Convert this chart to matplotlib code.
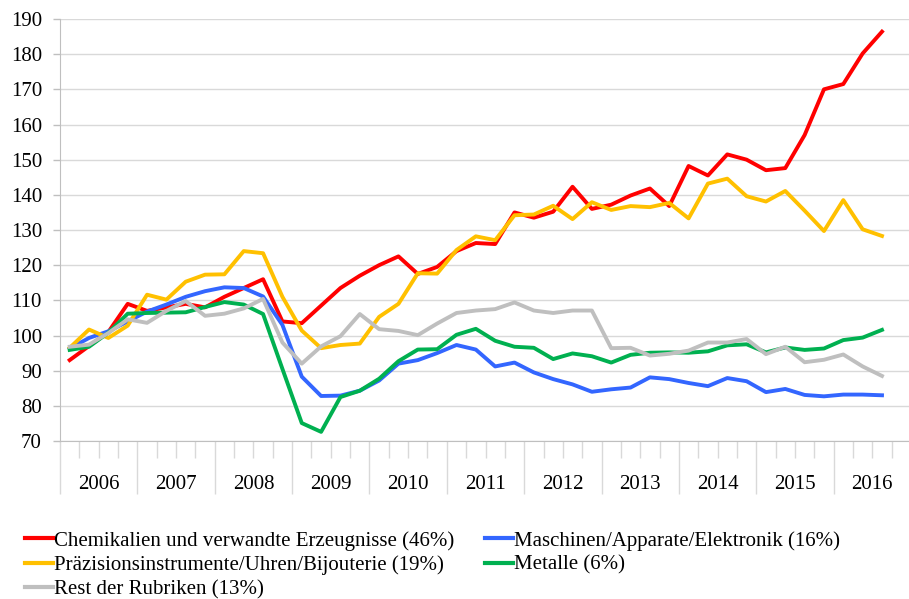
import numpy as np
import matplotlib
matplotlib.use('Agg')
import matplotlib.pyplot as plt
from matplotlib.lines import Line2D

plt.rcParams['font.family'] = ['Liberation Serif', 'DejaVu Serif']

# quarterly index values, 2006Q1 .. 2016Q3
years = ['2006', '2007', '2008', '2009', '2010', '2011',
         '2012', '2013', '2014', '2015', '2016']

chemie = [93, 97, 101, 109, 107, 108, 109, 108, 111, 113.5, 116, 104,
          103.5, 108.5, 113.5, 117, 120, 122.5, 117.5, 119.5, 124, 126.3, 126,
          135, 133.5, 135.2, 142.3, 136, 137.2, 139.8, 141.8, 136.8, 148.2,
          145.5, 151.5, 150, 147, 147.6, 157, 170, 171.5, 180.2, 186.4]
maschinen = [96.3, 99.3, 101.2, 104, 106.8, 108.8, 111, 112.6, 113.7, 113.5,
             111.1, 103, 88.3, 82.8, 82.9, 84.3, 87.2, 92, 93, 95, 97.3, 96,
             91.2, 92.3, 89.5, 87.6, 86.1, 84, 84.7, 85.2, 88.1, 87.6, 86.5,
             85.6, 87.9, 87, 83.9, 84.8, 83.1, 82.7, 83.2, 83.2, 83]
praezision = [96.5, 101.7, 99.3, 102.8, 111.6, 110.2, 115.3, 117.3, 117.4, 124,
              123.4, 111, 101.4, 96.4, 97.3, 97.7, 105.3, 109, 117.7, 117.6,
              124.3, 128.2, 127.1, 134.2, 134.4, 136.9, 133.1, 137.9, 135.7,
              136.8, 136.5, 137.7, 133.3, 143.2, 144.6, 139.6, 138.1, 141.1,
              135.5, 129.7, 138.5, 130.2, 128.3]
metalle = [95.9, 96.8, 100.8, 106.2, 106.4, 106.5, 106.6, 108.1, 109.5, 108.8,
           106.1, 90.5, 75.1, 72.6, 82.5, 84.3, 87.7, 92.7, 96, 96.1, 100.2,
           101.9, 98.5, 96.8, 96.5, 93.3, 94.9, 94.1, 92.3, 94.5, 95.1, 95.2,
           95.1, 95.5, 97.2, 97.5, 95.2, 96.6, 95.9, 96.3, 98.7, 99.4, 101.6]
rest = [96.8, 97.4, 100.7, 104.6, 103.6, 107, 109.8, 105.6, 106.2, 107.7,
        110.4, 98, 92, 96.9, 99.8, 106.1, 101.8, 101.3, 100.1, 103.4, 106.4,
        107.1, 107.5, 109.4, 107.1, 106.4, 107.1, 107.1, 96.4, 96.5, 94.3,
        94.8, 95.7, 98, 98, 99, 94.7, 96.8, 92.4, 93.1, 94.6, 91.2, 88.5]

labels = ['Chemikalien und verwandte Erzeugnisse (46%)',
          'Maschinen/Apparate/Elektronik (16%)',
          'Präzisionsinstrumente/Uhren/Bijouterie (19%)',
          'Metalle (6%)',
          'Rest der Rubriken (13%)']
colors = ['#ff0000', '#3366ff', '#ffc000', '#00b050', '#bfbfbf']
series = [chemie, maschinen, praezision, metalle, rest]

fs = 15

fig = plt.figure(figsize=(9.09, 5.99), dpi=100)
ax = fig.add_axes([60/909, 1-441/599, 851/909, 422/599])

x = np.arange(len(chemie))
for vals, col, lab in zip(series, colors, labels):
    ax.plot(x, vals, color=col, lw=2.8, label=lab)

ax.set_xlim(-0.5, 43.5)
ax.set_ylim(70, 190)
ax.set_yticks(range(70, 191, 10))
ax.yaxis.grid(True, color='#d9d9d9', lw=1)
ax.set_axisbelow(True)

ax.set_xticks(np.arange(-0.5, 44, 4))
ax.set_xticks(np.arange(-0.5, 44, 1), minor=True)
ax.set_xticklabels([])
ax.tick_params(axis='x', which='major', length=38, width=1, color='#d9d9d9')
ax.tick_params(axis='x', which='minor', length=12, width=1, color='#d9d9d9')
ax.tick_params(axis='y', length=5, width=1, color='#bfbfbf', labelsize=fs, pad=8)

for k, yr in enumerate(years):
    ax.text(1.5 + 4*k, -0.102, yr, transform=ax.get_xaxis_transform(),
            ha='center', va='center', fontsize=fs)

for s in ['top', 'right']:
    ax.spines[s].set_visible(False)
ax.spines['left'].set_color('#bfbfbf')
ax.spines['bottom'].set_color('#bfbfbf')

# legend fills column-wise, so reorder to get the row-wise layout
order = [0, 2, 4, 1, 3]
handles = [Line2D([], [], color=colors[i], lw=3) for i in order]
fig.legend(handles, [labels[i] for i in order], ncol=2, frameon=False,
           loc='upper left', bbox_to_anchor=(25/909, 1-531/599),
           borderpad=0, borderaxespad=0, fontsize=fs, handlelength=1.35,
           handletextpad=0.05, labelspacing=0.22, columnspacing=1.45)

fig.savefig('out.png', dpi=100)
